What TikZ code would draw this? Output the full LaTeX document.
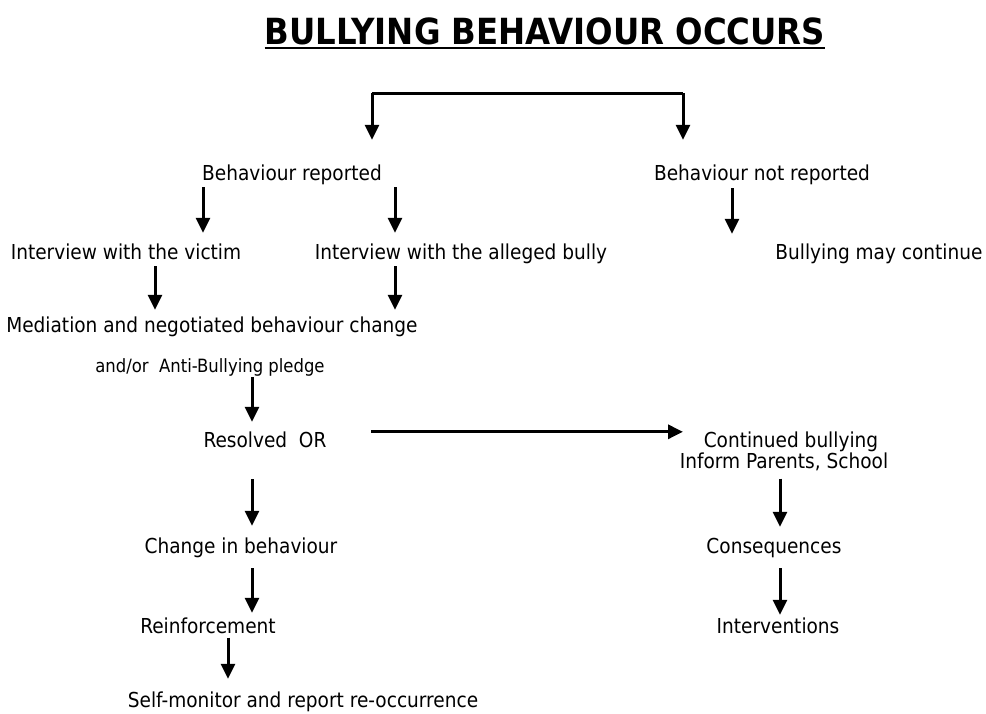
\documentclass[tikz,border=0pt]{standalone}
\usepackage{fontspec}
\setmainfont{DejaVu Sans Condensed}[BoldFont={DejaVu Sans Condensed Bold}]
\usepackage{tikz}
\usetikzlibrary{arrows.meta,positioning,calc}

\begin{document}
\begin{tikzpicture}[x=1pt,y=-1pt,
    lbl/.style={inner sep=0pt,anchor=base,text height=15pt,text depth=4.5pt,
      font=\fontsize{20.6}{24}\selectfont},
    small/.style={lbl,text height=13.5pt,text depth=4pt,
      font=\fontsize{18.3}{22}\selectfont},
    heading/.style={inner sep=0pt,anchor=base,font=\fontsize{36}{42}\selectfont\bfseries},
    arr/.style={line width=3pt,-{Triangle[length=15pt,width=14pt]}},
    bar/.style={line width=3pt}]
  \useasboundingbox[fill=white] (0,0) rectangle (986,713);

  % Title
  \node[heading] (title) at (545,44) {BULLYING BEHAVIOUR OCCURS};
  \draw[line width=2.5pt] ([yshift=-4pt]title.base west) -- ([yshift=-4pt]title.base east);

  % Left branch
  \node[lbl] (rep) at (292,180) {Behaviour reported};
  \node[lbl] (vic) at (126,259) {Interview with the victim};
  \node[lbl] (bully) at (461,259) {Interview with the alleged bully};
  \node[lbl] (med) at (212,332) {Mediation and negotiated behaviour change};
  \node[small] (pledge) at (210,372) {and/or\ \ Anti-Bullying pledge};
  \node[lbl] (res) at (265,447) {Resolved\ \ OR};
  \node[lbl] (chg) at (241,553) {Change in behaviour};
  \node[lbl] (reinf) at (208,633) {Reinforcement};
  \node[lbl] (self) at (303,707) {Self-monitor and report re-occurrence};

  % Right branch
  \node[lbl] (nrep) at (762,180) {Behaviour not reported};
  \node[lbl] (cont) at (879,259) {Bullying may continue};
  \node[lbl] (cb1) at (791,447) {Continued bullying};
  \node[lbl] (cb2) at (784,468) {Inform Parents, School};
  \node[lbl] (cons) at (774,553) {Consequences};
  \node[lbl] (interv) at (778,633) {Interventions};

  % Split
  \coordinate (tl) at (372,93);
  \coordinate (tr) at (683,93);
  \draw[bar] (tl) -- (tr);
  \draw[arr,shorten >=25pt] (tl) -- (tl |- rep.north);
  \draw[arr,shorten >=25pt] (tr) -- (tr |- nrep.north);

  % Arrows
  \draw[arr,shorten <=2.5pt,shorten >=11pt] (rep.south -| 203,0) -- (vic.north -| 203,0);
  \draw[arr,shorten <=2.5pt,shorten >=11pt] (rep.south -| 395,0) -- (bully.north -| 395,0);
  \draw[arr,shorten <=3.5pt,shorten >=10pt] (nrep.south -| 732,0) -- (cont.north -| 732,0);
  \draw[arr,shorten <=2.5pt,shorten >=7pt] (vic.south -| 155,0) -- (med.north -| 155,0);
  \draw[arr,shorten <=2.5pt,shorten >=7pt] (bully.south -| 395,0) -- (med.north -| 395,0);
  \draw[arr,shorten <=1pt,shorten >=10pt] (pledge.south -| 252,0) -- (res.north -| 252,0);
  \draw[arr] (res.north east -| 371,0) -- (cb1.north west -| 683,0);
  \draw[arr,shorten <=27.5pt,shorten >=12pt] (res.south -| 252,0) -- (chg.north -| 252,0);
  \draw[arr,shorten <=10.5pt,shorten >=5pt] (chg.south -| 252,0) -- (reinf.north -| 252,0);
  \draw[arr,shorten >=13pt] (reinf.south -| 228,0) -- (self.north -| 228,0);
  \draw[arr,shorten <=6pt,shorten >=11pt] (cb2.south -| 780,0) -- (cons.north -| 780,0);
  \draw[arr,shorten <=10.5pt,shorten >=3pt] (cons.south -| 780,0) -- (interv.north -| 780,0);
\end{tikzpicture}
\end{document}
